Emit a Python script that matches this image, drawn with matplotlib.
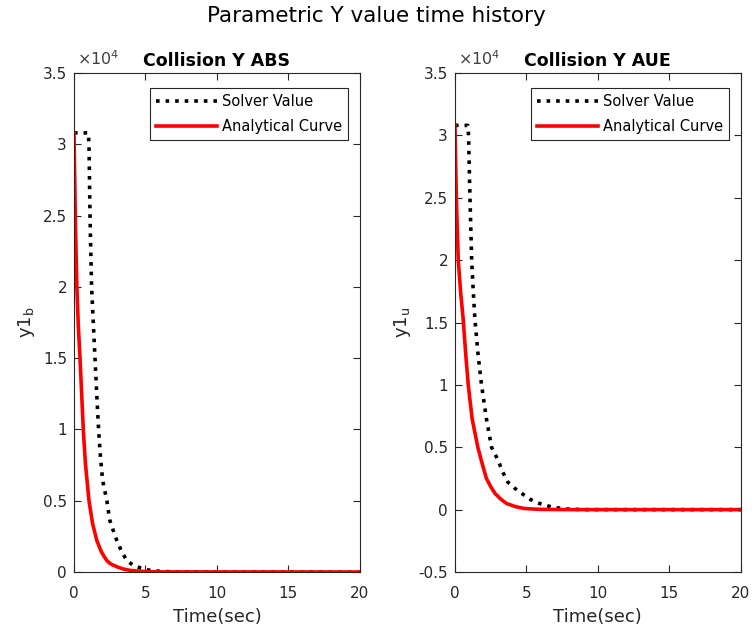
import numpy as np
import matplotlib.pyplot as plt
from matplotlib.ticker import FuncFormatter

plt.rcParams['font.family'] = ['DejaVu Sans']
plt.rcParams['mathtext.fontset'] = 'dejavusans'

# values
t_ana_b = [0, 0.1, 0.2, 0.3, 0.42, 0.55, 0.65, 0.8, 1.05, 1.3, 1.6, 1.9, 2.1, 2.3, 2.5, 2.7, 3.1, 3.5, 4.0, 5.0, 6.0, 20]
y_ana_b = [30800, 24500, 20000, 17300, 15000, 12200, 10000, 7600, 5000, 3400, 2200, 1450, 1100, 800, 620, 500, 330, 200, 100, 30, 5, 0]
t_sol_b = [0, 1.0, 1.05, 1.12, 1.23, 1.35, 1.47, 1.6, 1.72, 1.85, 2.0, 2.3, 2.5, 2.75, 3.0, 3.35, 3.7, 4.1, 4.6, 5.3, 6.0, 7.0, 20]
y_sol_b = [30800, 30800, 30000, 25000, 20000, 17500, 15000, 12300, 10000, 8100, 6450, 5000, 3650, 2900, 2200, 1400, 800, 500, 300, 120, 50, 10, 0]

t_ana_u = [0, 0.1, 0.23, 0.4, 0.58, 0.75, 0.93, 1.2, 1.6, 1.9, 2.2, 2.5, 2.8, 3.2, 3.6, 4.2, 4.8, 5.4, 6.0, 8.0, 20]
y_ana_u = [30800, 24800, 20000, 17400, 15200, 12500, 10000, 7300, 5000, 3700, 2500, 1850, 1300, 850, 500, 250, 100, 50, 20, 0, 0]
t_sol_u = [0, 0.9, 0.95, 1.05, 1.17, 1.28, 1.4, 1.62, 1.86, 2.2, 2.56, 3.0, 3.35, 3.7, 4.2, 4.8, 5.3, 5.9, 6.8, 7.8, 9.0, 20]
y_sol_u = [30800, 30800, 30000, 25000, 20000, 17500, 15200, 12400, 10000, 7300, 5000, 4000, 3000, 2200, 1700, 1200, 800, 500, 200, 50, 0, 0]

panels = [
    ('Collision Y ABS', r'y1$_\mathregular{b}$', t_sol_b, y_sol_b, t_ana_b, y_ana_b, (0, 35000), [0, 5000, 10000, 15000, 20000, 25000, 30000, 35000]),
    ('Collision Y AUE', r'y1$_\mathregular{u}$', t_sol_u, y_sol_u, t_ana_u, y_ana_u, (-5000, 35000), [-5000, 0, 5000, 10000, 15000, 20000, 25000, 30000, 35000]),
]

fig = plt.figure(figsize=(7.52, 6.31), dpi=100)
lefts = [0.0984, 0.605]
edge = '#262626'

for i in range(2):
    title, ylab, ts, ys, ta, ya, ylim, yt = panels[i]
    ax = fig.add_axes([lefts[i], 0.0935, 0.380, 0.7908])
    ax.plot(ts, ys, ':', color='black', lw=2.6, label='Solver Value')
    ax.plot(ta, ya, '-', color='red', lw=2.6, label='Analytical Curve')
    ax.set_xlim(0, 20)
    ax.set_ylim(*ylim)
    ax.set_xticks([0, 5, 10, 15, 20])
    ax.set_yticks(yt)
    ax.yaxis.set_major_formatter(FuncFormatter(lambda v, p: '%g' % (v / 1e4)))
    ax.tick_params(direction='in', top=True, right=True, length=5, width=0.8,
                   colors=edge, labelsize=11, labelcolor='#262626')
    ax.tick_params(axis='x', pad=10)
    ax.tick_params(axis='y', pad=5)
    for s in ax.spines.values():
        s.set_color(edge)
        s.set_linewidth(0.8)
    ax.set_title(title, fontsize=12.5, fontweight='bold', pad=5)
    ax.set_xlabel('Time(sec)', fontsize=13, color='#262626', labelpad=5)
    ax.set_ylabel(ylab, fontsize=13, color='#262626', labelpad=4)
    ax.text(0.01, 1.01, r'$\times$10$^\mathregular{4}$', transform=ax.transAxes,
            fontsize=11.5, color='#404040', ha='left', va='bottom')
    leg = ax.legend(loc='upper right', bbox_to_anchor=(0.958, 0.970), borderaxespad=0,
                    fontsize=10.5, fancybox=False, framealpha=1, edgecolor=edge,
                    handlelength=4.2, handletextpad=0.3, labelspacing=0.7, borderpad=0.4)
    leg.get_frame().set_linewidth(0.8)

fig.suptitle('Parametric Y value time history', fontsize=15.5, y=0.99)
fig.savefig('out.png', dpi=100)
